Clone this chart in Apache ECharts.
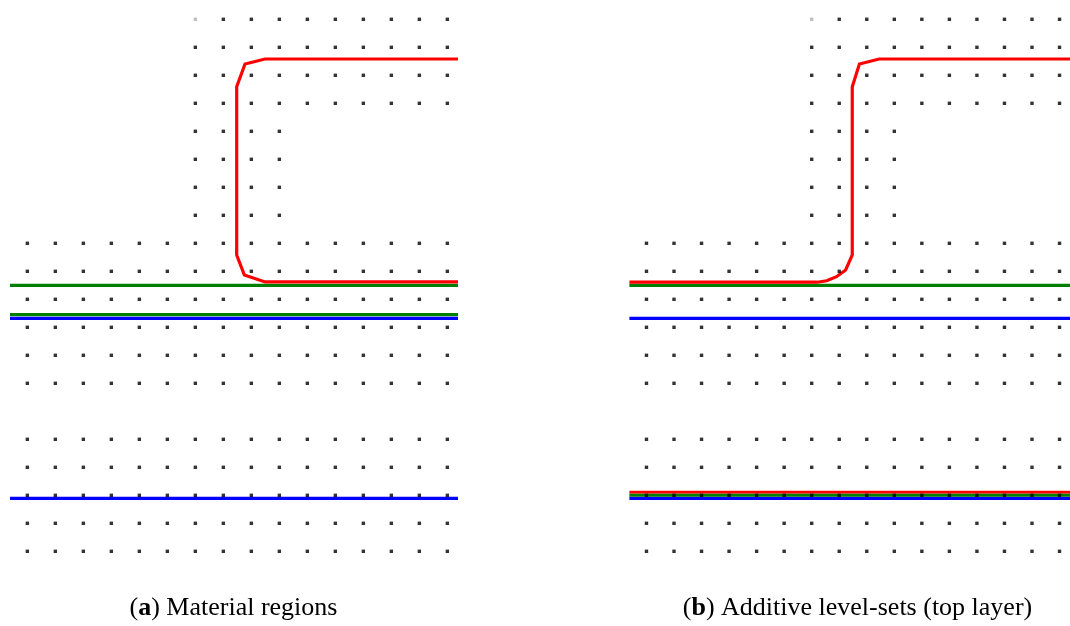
<!DOCTYPE html>
<html>
<head>
<meta charset="utf-8">
<script src="https://cdn.jsdelivr.net/npm/echarts@6/dist/echarts.min.js"></script>
<style>html,body{margin:0;padding:0;background:#fff}#c{width:1070px;height:626px}</style>
</head>
<body>
<div id="c"></div>
<script>
// ---- data (units: dot-grid spacing; x = column index, y = row index, downward) ----
const colsAll = [0,1,2,3,4,5,6,7,8,9,10,11,12,13,14,15];
const colsTopWide = [6,7,8,9,10,11,12,13,14,15];
const colsTopNarrow = [6,7,8,9];
const rowsTopWide = [0,1,2,3];
const rowsTopNarrow = [4,5,6,7];
const rowsFull = [8,9,10,11,12,13,15,16,17,18,19];
const faintDots = [[6,0]];

// panel (a) Material regions
const redA = [[15.38,1.418],[8.487,1.418],[7.773,1.596],[7.476,2.407],[7.476,8.418],[7.75,9.132],[8.49,9.38],[15.38,9.38]];
const greenA1 = [[-0.62,9.5],[15.38,9.5]];
const greenA2 = [[-0.62,10.55],[15.38,10.55]];
const blueA1 = [[-0.62,10.684],[15.38,10.684]];
const blueA2 = [[-0.62,17.107],[15.38,17.107]];

// panel (b) Additive level-sets (top layer)
const redB1 = [[15.38,1.418],[8.448,1.418],[7.733,1.596],[7.473,2.407],[7.473,8.418],[7.233,8.954],[6.9,9.193],[6.545,9.336],[6.2,9.39],[-0.62,9.39]];
const greenB1 = [[-0.62,9.5],[15.38,9.5]];
const blueB1 = [[-0.62,10.684],[15.38,10.684]];
const redB2 = [[-0.62,16.889],[15.38,16.889]];
const greenB2 = [[-0.62,16.996],[15.38,16.996]];
const blueB2 = [[-0.62,17.107],[15.38,17.107]];

const captionA = ['a', ' Material regions'];
const captionB = ['b', ' Additive level-sets (top layer)'];

// ---- build dot list ----
function cross(rows, cols){ const out=[]; rows.forEach(r=>cols.forEach(c=>out.push([c,r]))); return out; }
const isFaint = p => faintDots.some(f=>f[0]===p[0]&&f[1]===p[1]);
const dots = [].concat(cross(rowsTopWide,colsTopWide), cross(rowsTopNarrow,colsTopNarrow), cross(rowsFull,colsAll))
  .map(p => isFaint(p) ? {value:p, itemStyle:{color:'#b0b0b0'}} : p);

const RED='#ff0000', GREEN='#008000', BLUE='#0000ff';
function hiddenAxis(type, idx, extra){
  return Object.assign({type:'value', gridIndex:idx, axisLine:{show:false}, axisTick:{show:false},
    axisLabel:{show:false}, splitLine:{show:false}}, extra);
}
function lineSeries(data, color, gi, z, w){
  return {type:'line', xAxisIndex:gi, yAxisIndex:gi, data:data, showSymbol:false, symbol:'none',
    lineStyle:{color:color, width:w||3.2, cap:'butt', join:'miter'}, z:z, silent:true, clip:false};
}
function dotSeries(gi){
  return {type:'scatter', xAxisIndex:gi, yAxisIndex:gi, data:dots, symbol:'rect', symbolSize:3.4,
    itemStyle:{color:'#000000'}, z:10, silent:true};
}

const chart = echarts.init(document.getElementById('c'), null, {renderer:'canvas'});
chart.setOption({
  animation:false,
  backgroundColor:'#ffffff',
  grid:[
    {left:10, top:5.3, width:448, height:588},
    {left:629.4, top:5.3, width:448, height:588}
  ],
  xAxis:[hiddenAxis('value',0,{min:-0.62,max:15.38}), hiddenAxis('value',1,{min:-0.62,max:15.38})],
  yAxis:[hiddenAxis('value',0,{min:-0.5,max:20.5,inverse:true}), hiddenAxis('value',1,{min:-0.5,max:20.5,inverse:true})],
  series:[
    lineSeries(greenA1, GREEN, 0, 2),
    lineSeries(greenA2, GREEN, 0, 2),
    lineSeries(blueA1, BLUE, 0, 3),
    lineSeries(blueA2, BLUE, 0, 3),
    lineSeries(redA, RED, 0, 4),
    dotSeries(0),
    lineSeries(greenB1, GREEN, 1, 2),
    lineSeries(blueB1, BLUE, 1, 3),
    lineSeries(blueB2, BLUE, 1, 3),
    lineSeries(greenB2, GREEN, 1, 3),
    lineSeries(redB2, RED, 1, 4, 2.8),
    lineSeries(redB1, RED, 1, 4),
    dotSeries(1)
  ],
  graphic:[
    {type:'text', x:233.5, y:608, silent:true, style:{
      text:'({b|'+captionA[0]+'})'+captionA[1], align:'center', verticalAlign:'middle',
      font:'26px "Liberation Serif", serif', fill:'#000',
      rich:{b:{fontWeight:'bold', fontSize:26, fontFamily:'"Liberation Serif", serif', fill:'#000'}}}},
    {type:'text', x:857.5, y:608, silent:true, style:{
      text:'({b|'+captionB[0]+'})'+captionB[1], align:'center', verticalAlign:'middle',
      font:'26px "Liberation Serif", serif', fill:'#000',
      rich:{b:{fontWeight:'bold', fontSize:26, fontFamily:'"Liberation Serif", serif', fill:'#000'}}}}
  ]
});
</script>
</body>
</html>
